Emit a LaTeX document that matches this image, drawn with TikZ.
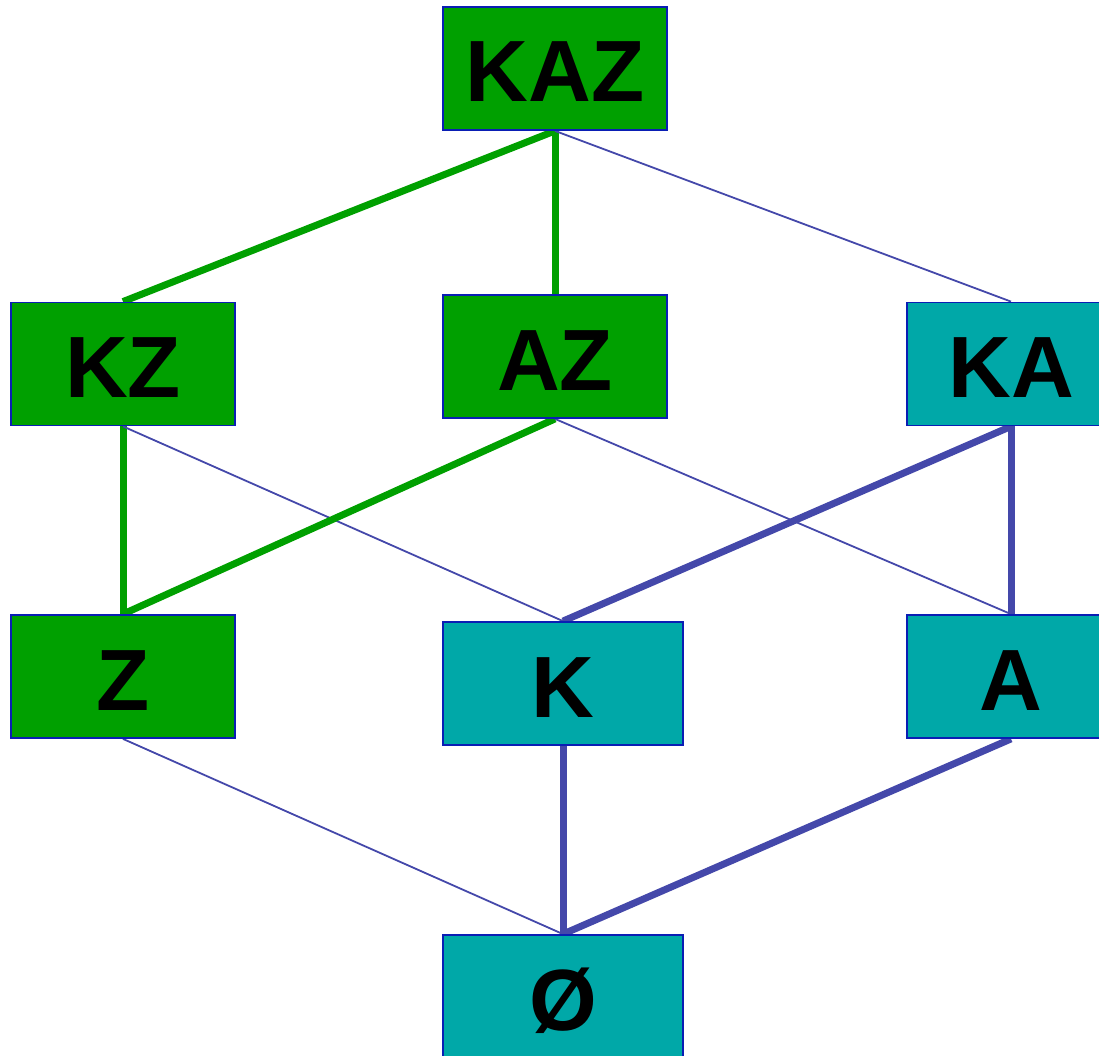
\documentclass[tikz,border=0pt]{standalone}
\usepackage{fontspec}
\setmainfont{Liberation Sans}
\usetikzlibrary{backgrounds}
\definecolor{boxgreen}{RGB}{0,160,0}
\definecolor{boxteal}{RGB}{0,168,168}
\definecolor{boxborder}{RGB}{10,30,180}
\definecolor{lineblue}{RGB}{68,72,170}
\tikzset{
  setbox/.style={draw=boxborder, line width=1.8pt, rectangle, inner sep=0pt,
    minimum height=123pt, text height=67pt, text depth=0pt,
    font=\fontsize{87}{87}\selectfont\bfseries, text=black},
  gbox/.style={setbox, fill=boxgreen},
  tbox/.style={setbox, fill=boxteal},
  thickg/.style={draw=boxgreen, line width=7pt},
  thickb/.style={draw=lineblue, line width=7pt},
  thinb/.style={draw=lineblue, line width=1.8pt},
}
\begin{document}
\begin{tikzpicture}[x=1pt,y=-1pt]
\useasboundingbox (0,0) rectangle (1099,1056);
\clip (0,0) rectangle (1099,1056);
% nodes
\node[gbox, minimum width=224pt] (KAZ) at (555,68.5) {KAZ};
\node[gbox, minimum width=224pt] (KZ) at (123,364) {KZ};
\node[gbox, minimum width=224pt] (AZ) at (555,356.5) {AZ};
\node[tbox, minimum width=208pt] (KA) at (1011,364) {KA};
\node[gbox, minimum width=224pt] (Z) at (123,676.5) {Z};
\node[tbox, minimum width=240pt] (K) at (563,683.5) {K};
\node[tbox, minimum width=208pt] (A) at (1011,676.5) {A};
\node[tbox, minimum width=240pt] (E) at (563,996.5) {Ø};
% connectors
\begin{pgfonlayer}{background}
\draw[thickg] (KAZ.south) -- (KZ.north);
\draw[thickg] (KAZ.south) -- (AZ.north);
\draw[thinb] (KAZ.south) -- (KA.north);
\draw[thickg] (KZ.south) -- (Z.north);
\draw[thinb] (KZ.south) -- (K.north);
\draw[thickg] (AZ.south) -- (Z.north);
\draw[thinb] (AZ.south) -- (A.north);
\draw[thickb] (KA.south) -- (K.north);
\draw[thickb] (KA.south) -- (A.north);
\draw[thinb] (Z.south) -- (E.north);
\draw[thickb] (K.south) -- (E.north);
\draw[thickb] (A.south) -- (E.north);
\end{pgfonlayer}
\end{tikzpicture}
\end{document}
